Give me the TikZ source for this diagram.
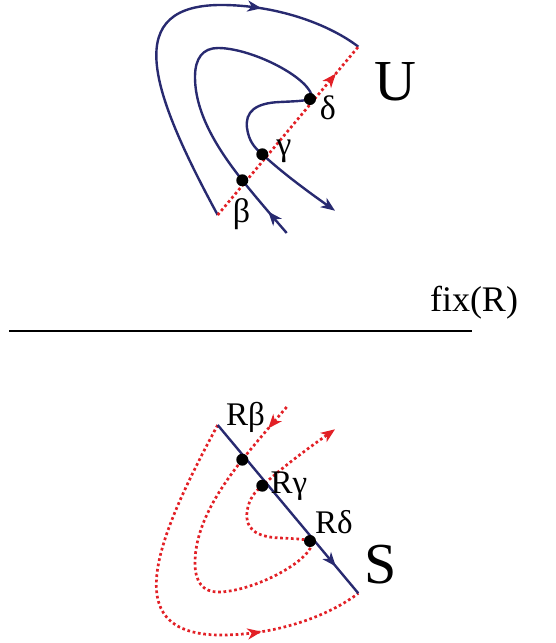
\documentclass[tikz,border=0pt]{standalone}
\usepackage{fontspec}
\setmainfont{Liberation Serif}
\usetikzlibrary{arrows.meta,decorations.markings}
\definecolor{myblue}{RGB}{40,42,112}
\definecolor{myred}{RGB}{226,32,38}
\tikzset{
  bluecurve/.style={draw=myblue,line width=2.4pt},
  redcurve/.style={draw=myred,line width=2.7pt,dash pattern=on 2.7pt off 2.7pt},
  tipmark/.style 2 args={postaction={decorate,decoration={markings,
      mark=at position #1 with {\arrow[#2]{Stealth[length=14pt,width=11pt,inset=4pt]}}}}},
  blk/.style={circle,fill=black,inner sep=0pt,minimum size=12pt},
  lbl/.style={inner sep=0pt,anchor=base,font=\fontsize{34}{40}\selectfont},
  lblr/.style={inner sep=0pt,anchor=base,font=\fontsize{33}{40}\selectfont},
  big/.style={inner sep=0pt,anchor=base,font=\fontsize{58}{64}\selectfont},
  outerP/.style={insert path={(217.7,215) .. controls (150,90) and (120,3) .. (225,5)
      .. controls (280,6) and (330,25) .. (358.3,46.7)}},
  middleP/.style={insert path={(286.7,233) .. controls (265,208) and (250,190) .. (242.3,180.3)
      .. controls (220,152) and (195,115) .. (195,77)
      .. controls (195,58) and (203,48) .. (218,48)
      .. controls (250,48) and (305,75) .. (311.7,95)
      .. controls (314,101) and (300,101) .. (280,102)
      .. controls (255,103) and (245,112) .. (247,128)
      .. controls (249,142) and (255,148) .. (262.3,154.3)
      .. controls (285,175) and (310,193) .. (335,210.7)}},
  lineP/.style={insert path={(217.7,215) -- (358.3,46.7)}}
}
\begin{document}
\begin{tikzpicture}[x=1pt,y=-1pt]
\useasboundingbox (0,0) rectangle (556,643);
% top: U
\draw[bluecurve,outerP,tipmark={0.745}{myblue}];
\draw[bluecurve,middleP,tipmark={0.052}{myblue},-{Stealth[length=14pt,width=11pt,inset=4pt]}];
\draw[redcurve,lineP,tipmark={0.84}{myred}];
\node[blk] (b) at (242.3,180.3) {};
\node[blk] (g) at (262.3,154.3) {};
\node[blk] (d) at (310,99) {};
% bottom: S (mirror image)
\begin{scope}[shift={(0,640)},yscale=-1]
\draw[redcurve,outerP,tipmark={0.745}{myred}];
\draw[redcurve,middleP,tipmark={0.052}{myred},-{Stealth[length=14pt,width=11pt,inset=4pt]}];
\draw[bluecurve,lineP,tipmark={0.84}{myblue}];
\node[blk] (rb) at (242.3,180.3) {};
\node[blk] (rg) at (262.3,154.3) {};
\node[blk] (rd) at (310,99) {};
\end{scope}
% labels
\node[lbl] (lb) at (241.5,222) {β};
\node[lbl] (lg) at (284,155) {γ};
\node[lbl] (ld) at (328,119) {δ};
\node[big] (U) at (395.7,100) {U};
\node[lblr] (lrb) at (245.5,425) {Rβ};
\node[lblr] (lrg) at (289,493) {Rγ};
\node[lblr] (lrd) at (334,533) {Rδ};
\node[big] (S) at (380.7,583.3) {S};
% fixed line
\coordinate (fl) at (9.3,330.7);
\coordinate (fr) at (471.7,330.7);
\draw[line width=2pt] (fl) -- (fr);
\node[inner sep=0pt,anchor=base,font=\fontsize{36}{42}\selectfont] (fix) at (474,311.7) {fix(R)};
\end{tikzpicture}
\end{document}
